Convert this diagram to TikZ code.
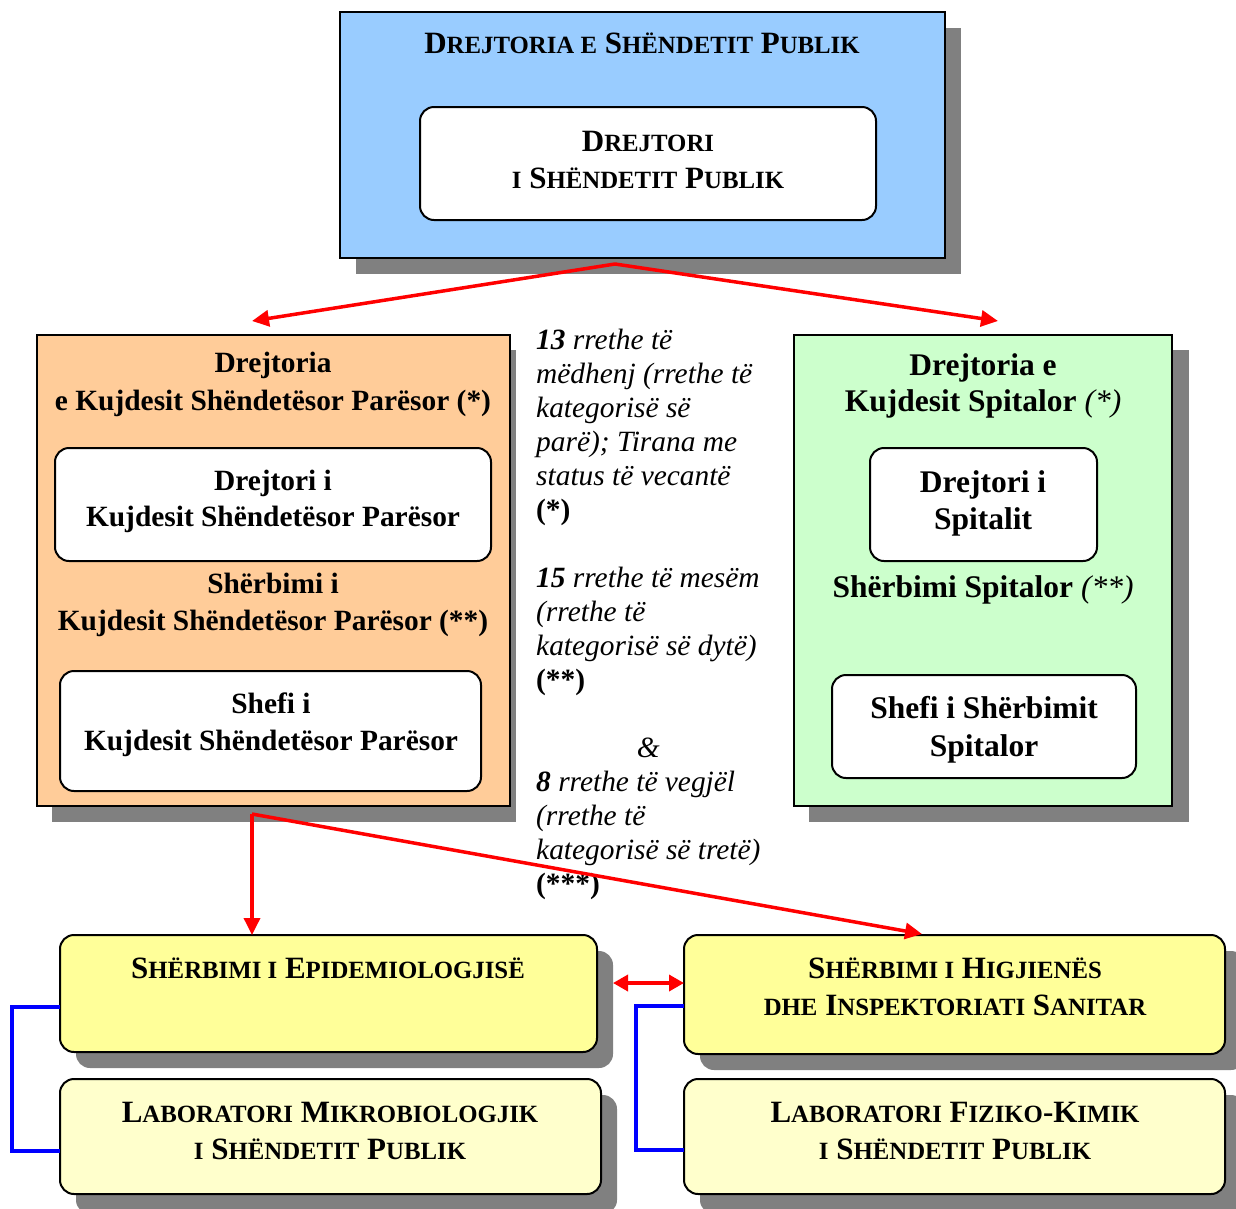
\documentclass[tikz,border=0pt]{standalone}
\usepackage{fontspec}
\setmainfont{Liberation Serif}
\usetikzlibrary{arrows.meta}
\definecolor{bluebox}{HTML}{99CCFF}
\definecolor{orangebox}{HTML}{FFCC99}
\definecolor{greenbox}{HTML}{CCFFCC}
\definecolor{yelbox}{HTML}{FFFF99}
\definecolor{paleyel}{HTML}{FFFFCC}
\definecolor{shadowgray}{HTML}{808080}
\newcommand\sC[1]{{\fontsize{24.8}{37}\selectfont #1}}
\newcommand\ctr[1]{\parbox[t]{580pt}{\centering #1}}
\begin{document}
\begin{tikzpicture}[x=1pt,y=-1pt,
  shd/.style={fill=shadowgray},
  sqbox/.style={draw=black, line width=2pt, inner sep=0pt, outer sep=0pt},
  rbox/.style={draw=black, line width=2pt, inner sep=0pt, outer sep=0pt, rounded corners=14pt},
  txt/.style={anchor=base, inner sep=0pt, font=\fontsize{29.4}{37}\selectfont\bfseries},
  gtxt/.style={anchor=base, inner sep=0pt, font=\fontsize{31.5}{37}\selectfont\bfseries},
  caps/.style={anchor=base, inner sep=0pt, font=\fontsize{31}{37}\selectfont\bfseries},
  redline/.style={draw=red, line width=3.5pt, -{Triangle[length=17pt,width=16pt]}},
  redboth/.style={draw=red, line width=3.5pt, {Triangle[length=15pt,width=16pt]}-{Triangle[length=15pt,width=16pt]}},
  blueline/.style={draw=blue, line width=3.5pt}]
\useasboundingbox (0,0) rectangle (1236,1208);
% shadows
\fill[shd] (356,28) rectangle (961,274);
\fill[shd] (52,350) rectangle (516,822);
\fill[shd] (809,350) rectangle (1189,822);
\fill[shd, rounded corners=14pt] (76,951) rectangle (613,1068);
\fill[shd, rounded corners=14pt] (76,1095) rectangle (617,1214);
\fill[shd, rounded corners=14pt] (700,951) rectangle (1245,1070);
\fill[shd, rounded corners=14pt] (700,1095) rectangle (1245,1214);
% main boxes
\node[sqbox, fill=bluebox, minimum width=605pt, minimum height=246pt] (dsp) at (642.5,135) {};
\node[sqbox, fill=orangebox, minimum width=473pt, minimum height=471pt] (dkp) at (273.5,570.5) {};
\node[sqbox, fill=greenbox, minimum width=378pt, minimum height=471pt] (dks) at (983,570.5) {};
% inner white boxes
\node[rbox, fill=white, minimum width=456pt, minimum height=113pt] (wtop) at (648,163.5) {};
\node[rbox, fill=white, minimum width=436pt, minimum height=113pt] (wl1) at (273,504.5) {};
\node[rbox, fill=white, minimum width=421pt, minimum height=120pt] (wl2) at (270.5,731) {};
\node[rbox, fill=white, minimum width=227pt, minimum height=113pt] (wg1) at (983.5,504.5) {};
\node[rbox, fill=white, minimum width=304pt, minimum height=103pt] (wg2) at (984,726.5) {};
% bottom boxes
\node[rbox, fill=yelbox, minimum width=537pt, minimum height=117pt] (epi) at (328.5,993.5) {};
\node[rbox, fill=paleyel, minimum width=541pt, minimum height=115pt] (lab1) at (330.5,1136.5) {};
\node[rbox, fill=yelbox, minimum width=541pt, minimum height=119pt] (hyg) at (954.5,994.5) {};
\node[rbox, fill=paleyel, minimum width=541pt, minimum height=115pt] (lab2) at (954.5,1136.5) {};
% texts
\node[caps] (tdsp) at (642,53) {\ctr{D\sC{REJTORIA E} S\sC{HËNDETIT} P\sC{UBLIK}}};
\node[caps] (twtop) at (648,151) {\ctr{D\sC{REJTORI}\\ \sC{I} S\sC{HËNDETIT} P\sC{UBLIK}}};
\node[txt] (tdkp) at (273,372) {\ctr{Drejtoria\\[1pt] e Kujdesit Shëndetësor Parësor (*)}};
\node[txt] (twl1) at (273,490) {\ctr{Drejtori i\\[-1pt] Kujdesit Shëndetësor Parësor}};
\node[txt] (tskp) at (273,593) {\ctr{Shërbimi i\\ Kujdesit Shëndetësor Parësor (**)}};
\node[txt] (twl2) at (271,713) {\ctr{Shefi i\\ Kujdesit Shëndetësor Parësor}};
\node[gtxt] (tdks) at (983,375) {\ctr{Drejtoria e\\[-1pt] Kujdesit Spitalor \textit{\mdseries(*)}}};
\node[gtxt] (twg1) at (983,492) {\ctr{Drejtori i\\ Spitalit}};
\node[gtxt] (tss) at (983,597) {\ctr{Shërbimi Spitalor \textit{\mdseries(**)}}};
\node[gtxt] (twg2) at (984,718) {\ctr{Shefi i Shërbimit\\[1pt] Spitalor}};
\node[caps] (tepi) at (328,978) {\ctr{S\sC{HËRBIMI I} E\sC{PIDEMIOLOGJISË}}};
\node[caps] (thyg) at (955,978) {\ctr{S\sC{HËRBIMI I} H\sC{IGJIENËS}\\ \sC{DHE} I\sC{NSPEKTORIATI} S\sC{ANITAR}}};
\node[caps] (tlab1) at (330,1122) {\ctr{L\sC{ABORATORI} M\sC{IKROBIOLOGJIK}\\ \sC{I} S\sC{HËNDETIT} P\sC{UBLIK}}};
\node[caps] (tlab2) at (955,1122) {\ctr{L\sC{ABORATORI} F\sC{IZIKO}-K\sC{IMIK}\\ \sC{I} S\sC{HËNDETIT} P\sC{UBLIK}}};
% middle notes
\node[anchor=base west, inner sep=0pt, font=\fontsize{29.4}{34}\selectfont\itshape] (notes) at (536,349)
 {\parbox[t]{250pt}{\raggedright
 \textbf{13} rrethe të\\
 mëdhenj (rrethe të\\
 kategorisë së\\
 parë); Tirana me\\
 status të vecantë\\
 {\upshape\bfseries(*)}\\
 \mbox{}\\
 \textbf{15} rrethe të mesëm\\
 (rrethe të\\
 kategorisë së dytë)\\
 {\upshape\bfseries(**)}\\
 \mbox{}\\
 \makebox[224pt]{\&}\\
 \textbf{8} rrethe të vegjël\\
 (rrethe të\\
 kategorisë së tretë)\\
 {\upshape\bfseries(***)}}};
% connectors
\coordinate (j1) at (615,264);
\coordinate (a1) at (252,321);
\coordinate (a2) at (998,321);
\draw[redline] (j1) -- (a1);
\draw[redline] (j1) -- (a2);
\coordinate (j2) at (252,814);
\coordinate (a3) at (922,934);
\draw[redline] (j2) -- (j2 |- epi.north);
\draw[redline] (j2) -- (a3);
\coordinate (a4) at (613,983);
\draw[redboth] (a4) -- (a4 -| hyg.west);
\draw[blueline] ([yshift=-13.5pt]epi.west) -- ++(-48,0) |- ([yshift=-14.5pt]lab1.west);
\draw[blueline] ([yshift=-11.5pt]hyg.west) -- ++(-48,0) |- ([yshift=-13.5pt]lab2.west);
\end{tikzpicture}
\end{document}
